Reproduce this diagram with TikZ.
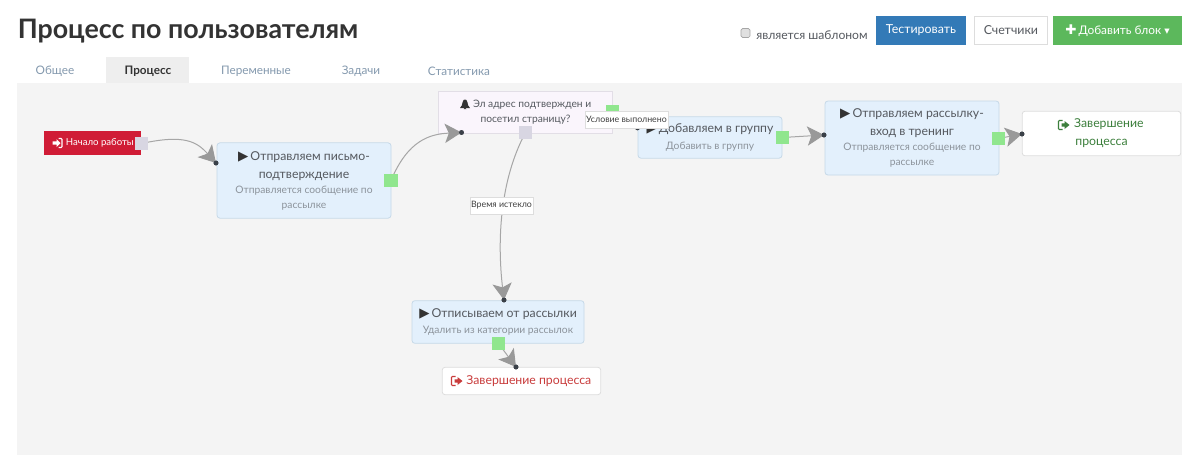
\documentclass[tikz,border=0pt]{standalone}
\usepackage{fontspec}
\setmainfont{Lato}
\newfontfamily\symf{DejaVu Sans}
\usetikzlibrary{arrows.meta}
\definecolor{panelbg}{HTML}{F4F4F4}
\definecolor{tabbg}{HTML}{EEEEEE}
\definecolor{blockfill}{HTML}{E3F0FC}
\definecolor{blockedge}{HTML}{C6D9E8}
\definecolor{condfill}{HTML}{FAF5FC}
\definecolor{condedge}{HTML}{E2DEE6}
\definecolor{endedge}{HTML}{DDDDDD}
\definecolor{maintxt}{HTML}{55595F}
\definecolor{subtxt}{HTML}{8C939B}
\definecolor{titletxt}{HTML}{333333}
\definecolor{tabtxt}{HTML}{8499AE}
\definecolor{portgreen}{HTML}{90E68E}
\definecolor{portgrey}{HTML}{D8D6E2}
\definecolor{startred}{HTML}{D01C36}
\definecolor{btnblue}{HTML}{337AB7}
\definecolor{btngreen}{HTML}{5CB85C}
\definecolor{endgreen}{HTML}{3C7F3C}
\definecolor{endred}{HTML}{C93C3C}
\definecolor{linegrey}{HTML}{A6A6A6}
\definecolor{headgrey}{HTML}{999999}
\definecolor{dotc}{HTML}{3A4048}
\newcommand{\mainf}{\fontsize{9.2pt}{11.25pt}\selectfont\color{maintxt}}
\newcommand{\subf}{\fontsize{7.7pt}{11.25pt}\selectfont\color{subtxt}}
\newcommand{\playi}{{\symf\fontsize{10pt}{10pt}\selectfont\color{black!80}▶}\,}
\newcommand{\signicon}[3]{%
  \draw[#3,line width=0.8pt,rounded corners=0.6pt] (#1+1,#2-4.5) -- (#1+4.5,#2-4.5) -- (#1+4.5,#2+4.5) -- (#1+1,#2+4.5);
  \fill[#3] (#1-5,#2-1.7) -- (#1-1,#2-1.7) -- (#1-1,#2-4) -- (#1+3,#2) -- (#1-1,#2+4) -- (#1-1,#2+1.7) -- (#1-5,#2+1.7) -- cycle;
}
\newcommand{\exiticon}[3]{%
  \draw[#3,line width=0.8pt,rounded corners=0.6pt] (#1-1,#2-4.5) -- (#1-5,#2-4.5) -- (#1-5,#2+4.5) -- (#1-1,#2+4.5);
  \fill[#3] (#1-2,#2-1.7) -- (#1+1,#2-1.7) -- (#1+1,#2-4) -- (#1+6,#2) -- (#1+1,#2+4) -- (#1+1,#2+1.7) -- (#1-2,#2+1.7) -- cycle;
}
\tikzset{
  x=0.75pt,y=-0.75pt,
  block/.style={draw=blockedge,fill=blockfill,rounded corners=2.2pt,line width=0.6pt,align=center,text=maintxt,inner sep=0pt,font=\fontsize{9.2pt}{11.25pt}\selectfont},
  cond/.style={draw=condedge,fill=condfill,line width=0.6pt,align=center,text=maintxt,inner sep=0pt},
  endblock/.style={draw=endedge,fill=white,rounded corners=2.2pt,line width=0.6pt,align=center,inner sep=0pt,font=\fontsize{9.2pt}{11.25pt}\selectfont},
  greenport/.style={fill=portgreen,minimum size=10pt,inner sep=0pt},
  greyport/.style={fill=portgrey,minimum size=10pt,inner sep=0pt},
  enddot/.style={circle,fill=dotc,minimum size=3.6pt,inner sep=0pt},
  conn/.style={linegrey,line width=0.75pt,-{Stealth[length=12.5pt,width=14.5pt,inset=3pt,color=headgrey]}},
  plainconn/.style={linegrey,line width=0.75pt},
  edgelabel/.style={draw=endedge,fill=white,line width=0.5pt,inner sep=0pt,text=black!75,font=\fontsize{6.6pt}{8pt}\selectfont},
  tabtext/.style={text=tabtxt,font=\fontsize{8.8pt}{11pt}\selectfont,inner sep=0pt},
  btn/.style={inner sep=0pt,font=\fontsize{9.3pt}{11pt}\selectfont},
}
\begin{document}
\begin{tikzpicture}
\useasboundingbox (0,0) rectangle (1200,455);
\fill[white] (0,0) rectangle (1200,455);
% panel and tabs
\fill[panelbg] (17,83) rectangle (1182,455);
\fill[tabbg] (106,57) rectangle (189,83);
\node[anchor=base west,inner sep=0pt,text=titletxt,font=\fontsize{20.1pt}{24pt}\selectfont\bfseries] (title) at (17.5,38) {Процесс по пользователям};
\node[tabtext] (t1) at (55,71) {Общее};
\node[tabtext,text=titletxt,font=\fontsize{8.8pt}{11pt}\selectfont\bfseries] (t2) at (148,71) {Процесс};
\node[tabtext] (t3) at (256,71) {Переменные};
\node[tabtext] (t4) at (361,71) {Задачи};
\node[tabtext] (t5) at (459,71) {Статистика};
% header controls
\node[draw=black!35,fill=black!12,rounded corners=1.2pt,minimum size=6.8pt,inner sep=0pt,line width=0.5pt] (chk) at (745.5,33) {};
\node[anchor=west,inner sep=0pt,text=maintxt,font=\fontsize{9.1pt}{11pt}\selectfont] (tpl) at (756,35) {является шаблоном};
\node[btn,fill=btnblue,text=white,minimum width=67.5pt,minimum height=22pt] (b1) at (921,30.5) {Тестировать};
\node[btn,draw=endedge,fill=white,text=maintxt,line width=0.6pt,minimum width=55pt,minimum height=21.5pt] (b2) at (1011,30.5) {Счетчики};
\node[btn,fill=btngreen,text=white,minimum width=96.5pt,minimum height=22pt] (b3) at (1117.5,30.5) {{\symf\fontsize{10pt}{10pt}\selectfont ✚}\,{\fontsize{8.9pt}{11pt}\selectfont Добавить блок} {\symf\fontsize{8pt}{10pt}\selectfont ▾}};
% blocks
\node[fill=startred,minimum width=73pt,minimum height=18pt,inner sep=0pt,text=white,font=\fontsize{7.2pt}{9pt}\selectfont] (start) at (92.5,143) {\hspace{11pt}Начало работы\hspace{3pt}};
\node[block,minimum width=130.5pt,minimum height=56.5pt] (send1) at (304,180.5) {\mainf\playi Отправляем письмо-\\[2.25pt]\mainf подтверждение\\\subf Отправляется сообщение по\\\subf рассылке};
\node[cond,minimum width=131pt,minimum height=31pt,font=\fontsize{7.7pt}{11.2pt}\selectfont] (cond) at (525.5,112.5) {\hspace{10pt}Эл адрес подтвержден и\\посетил страницу?};
\node[block,minimum width=108pt,minimum height=31pt] (add) at (710,137.5) {\mainf\playi Добавляем в группу\\[1pt]\subf Добавить в группу};
\node[block,minimum width=130.5pt,minimum height=55.5pt] (send2) at (912,138) {\mainf\playi Отправляем рассылку-\\[2.25pt]\mainf вход в тренинг\\\subf Отправляется сообщение по\\\subf рассылке};
\node[endblock,minimum width=119pt,minimum height=33.5pt] (endok) at (1101.5,133.5) {\mainf\color{endgreen}\hspace{11pt}Завершение\\[2.25pt]\mainf\color{endgreen}процесса};
\node[block,minimum width=129pt,minimum height=32pt] (unsub) at (498,322) {\mainf\playi Отписываем от рассылки\\[1pt]\subf Удалить из категории рассылок};
\node[endblock,minimum width=119pt,minimum height=20.5pt] (endno) at (521.5,381) {\mainf\color{endred}\hspace{11pt}Завершение процесса};
% icons
\signicon{57.5}{143}{white}
\exiticon{1063.5}{125}{endgreen}
\exiticon{456.5}{381}{endred}
\fill[black!80] (460,108) .. controls (462,107) and (462,104) .. (462.5,102.5) .. controls (463,100) and (464,99.5) .. (465,99.5) .. controls (466,99.5) and (467,100) .. (467.5,102.5) .. controls (468,104) and (468,107) .. (470,108) -- cycle;
\fill[black!80] (463.5,109) arc[start angle=180,end angle=360,radius=1.5] -- cycle;
% ports
\node[greyport] (pstart) at (141.5,143.5) {};
\node[greenport] (p1) at (391,180.5) {};
\node[greenport] (pyes) at (612.5,112) {};
\node[greyport] (pno) at (525.5,132.5) {};
\node[greenport] (padd) at (782.5,137.5) {};
\node[greenport] (p2) at (998.5,138.5) {};
\node[greenport] (pun) at (498.5,343.5) {};
% end dots
\node[enddot] (d1) at (216,163) {};
\node[enddot] (dcond) at (461.5,132.5) {};
\node[enddot] (dadd) at (637.5,128) {};
\node[enddot] (d2) at (824,135) {};
\node[enddot] (dok) at (1022,134) {};
\node[enddot] (dun) at (504,300) {};
\node[enddot] (dno) at (516,367) {};
% connectors
\draw[conn] (pstart.center) .. controls (185,134) and (197,142) .. (d1.center);
\draw[conn] (p1.center) .. controls (408,140) and (430,134) .. (dcond.center);
\draw[conn] (pno.center) .. controls (500,180) and (497,240) .. (dun.center);
\draw[plainconn] (pyes.center) -- (dadd.center);
\draw[conn] (padd.center) -- (d2.center);
\draw[conn] (p2.center) -- (dok.center);
\draw[conn] (pun.center) -- (dno.center);
% redraw dots and ports above the lines
\foreach \n/\st in {pstart/greyport,p1/greenport,pno/greyport,padd/greenport,p2/greenport,pun/greenport}{
  \node[\st] at (\n) {};
}
\foreach \n in {d1,dcond,d2,dok,dun,dno}{
  \node[enddot] at (\n) {};
}
% edge labels
\node[edgelabel,minimum width=62pt,minimum height=12.5pt] (lyes) at (626.5,119.5) {Условие выполнено};
\node[edgelabel,minimum width=47pt,minimum height=12.5pt] (lno) at (501.5,205.5) {Время истекло};
\end{tikzpicture}
\end{document}
